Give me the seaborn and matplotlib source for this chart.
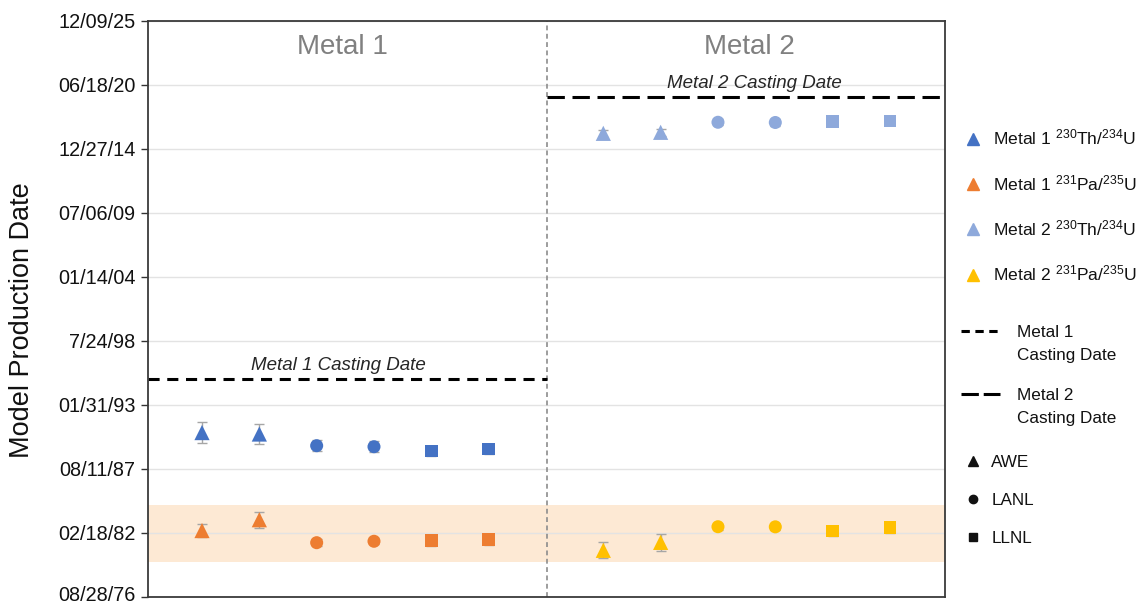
import numpy as np
import pandas as pd
import matplotlib
matplotlib.use("Agg")
import matplotlib.pyplot as plt
import matplotlib.dates as mdates
import matplotlib.transforms as mtransforms
from matplotlib.lines import Line2D
import seaborn as sns

# ---- data -----------------------------------------------------------------
labs = ["AWE", "AWE", "LANL", "LANL", "LLNL", "LLNL"]
metal1_x = [1, 2, 3, 4, 5, 6]
metal2_x = [8, 9, 10, 11, 12, 13]

metal1_th = ["1990-09-13", "1990-07-30", "1989-07-30", "1989-06-28", "1989-02-14", "1989-04-16"]
metal1_th_err = [330, 320, 180, 180, 150, 150]          # days
metal1_pa = ["1982-04-26", "1983-03-31", "1981-04-12", "1981-05-26", "1981-06-25", "1981-07-26"]
metal1_pa_err = [213, 250, 100, 100, 180, 180]
metal2_th = ["2016-04-20", "2016-05-22", "2017-04-01", "2017-03-25", "2017-04-20", "2017-05-12"]
metal2_th_err = [100, 100, 100, 100, 100, 100]
metal2_pa = ["1980-08-17", "1981-04-22", "1982-08-24", "1982-08-20", "1982-04-12", "1982-07-24"]
metal2_pa_err = [250, 260, 100, 100, 150, 150]

metal1_casting = "1995-04-12"
metal2_casting = "2019-05-28"
pa_band = ["1979-08-08", "1984-07-18"]

tick_dates = ["1976-08-28", "1982-02-18", "1987-08-11", "1993-01-31", "1998-07-24",
              "2004-01-14", "2009-07-06", "2014-12-27", "2020-06-18", "2025-12-09"]
tick_labels = ["08/28/76", "02/18/82", "08/11/87", "01/31/93", "7/24/98",
               "01/14/04", "07/06/09", "12/27/14", "06/18/20", "12/09/25"]

series_names = [r"Metal 1 $^{230}$Th/$^{234}$U", r"Metal 1 $^{231}$Pa/$^{235}$U",
                r"Metal 2 $^{230}$Th/$^{234}$U", r"Metal 2 $^{231}$Pa/$^{235}$U"]
series_colors = ["#4472C4", "#ED7D31", "#8EA9DB", "#FFC000"]

# ---- style ----------------------------------------------------------------
sns.set_theme(style="white")
plt.rcParams["font.family"] = ["Liberation Sans", "DejaVu Sans"]
plt.rcParams["mathtext.fontset"] = "custom"
plt.rcParams["mathtext.rm"] = "Liberation Sans"
plt.rcParams["mathtext.default"] = "regular"
plt.rcParams["lines.scale_dashes"] = False


def to_num(dates):
    return mdates.date2num(pd.to_datetime(dates))


rows = []
for name, xs, ds, es in [
    (series_names[0], metal1_x, metal1_th, metal1_th_err),
    (series_names[1], metal1_x, metal1_pa, metal1_pa_err),
    (series_names[2], metal2_x, metal2_th, metal2_th_err),
    (series_names[3], metal2_x, metal2_pa, metal2_pa_err),
]:
    for x, d, e, lab in zip(xs, to_num(ds), es, labs):
        rows.append({"x": x, "y": d, "err": e, "series": name, "lab": lab})
df = pd.DataFrame(rows)

fig = plt.figure(figsize=(11.41, 6.03), dpi=100)
ax = fig.add_axes([148 / 1141, 6.3 / 603, 797 / 1141, 576 / 603])

yticks = to_num(tick_dates)
xmin, xmax, xdiv = 0.058, 13.96, 7.02

# shaded Pa/U band
band = to_num(pa_band)
ax.axhspan(band[0], band[1], color="#FDE9D4", zorder=0.2, lw=0)

# error bars, then markers
ax.errorbar(df["x"], df["y"], yerr=df["err"], fmt="none", ecolor="#a6a6a6",
            elinewidth=1.0, capsize=3.5, capthick=1.0, zorder=2)
sns.scatterplot(data=df, x="x", y="y", hue="series", style="lab", size="lab",
                palette=dict(zip(series_names, series_colors)),
                markers={"AWE": "^", "LANL": "o", "LLNL": "s"},
                sizes={"AWE": 120, "LANL": 88, "LLNL": 82},
                edgecolor="none", linewidth=0, legend=False, zorder=3, ax=ax)

# divider between metals
ax.axvline(xdiv, color="#8c8c8c", lw=1.2, dashes=(3.5, 2.5), zorder=1)

# casting dates
c1, c2 = to_num([metal1_casting, metal2_casting])
ax.plot([xmin, xdiv], [c1, c1], color="black", lw=2.2, dashes=(8, 5.5), zorder=2.5)
ax.plot([xdiv, xmax], [c2, c2], color="black", lw=2.2, dashes=(12.5, 5.5), zorder=2.5)
ax.annotate("Metal 1 Casting Date", (3.37, c1), xytext=(0, 9.5), textcoords="offset points",
            ha="center", va="center", style="italic", fontsize=13.5, color="#262626")
ax.annotate("Metal 2 Casting Date", (10.63, c2), xytext=(0, 9.8), textcoords="offset points",
            ha="center", va="center", style="italic", fontsize=13.5, color="#262626")

# section titles
trans = mtransforms.blended_transform_factory(ax.transData, ax.transAxes)
ax.text(3.45, 0.954, "Metal 1", transform=trans, ha="center", va="center",
        fontsize=20, color="#808080")
ax.text(10.55, 0.954, "Metal 2", transform=trans, ha="center", va="center",
        fontsize=20, color="#808080")

# axes
ax.set_xlim(xmin, xmax)
ax.set_ylim(yticks[0], yticks[-1])
ax.set_yticks(yticks)
ax.set_yticklabels(tick_labels, fontsize=14.3, color="#111111")
ax.set_xticks([])
ax.set_xlabel("")
ax.set_ylabel("")
ax.yaxis.grid(True, color="#e3e3e3", lw=1.0)
ax.set_axisbelow(True)
ax.tick_params(axis="y", left=True, length=5, width=1.0, color="#333333", pad=4)
for sp in ax.spines.values():
    sp.set_color("#3a3a3a")
    sp.set_linewidth(1.3)
ax.set_facecolor("white")

# keep the lowest date label inside the figure
bottom_label = ax.get_yticklabels()[0]
bottom_label.set_transform(bottom_label.get_transform()
                           + mtransforms.ScaledTranslation(0, 3 / 100, fig.dpi_scale_trans))

fig.text(22 / 1141, 1 - 320 / 603, "Model Production Date", rotation=90,
         ha="center", va="center", fontsize=19.5, color="#111111")

# legends
leg_kw = dict(loc="upper left", frameon=False, borderpad=0,
              borderaxespad=0, labelcolor="#111111")
h1 = [Line2D([], [], marker="^", ls="none", color=c, markersize=8) for c in series_colors]
fig.legend(handles=h1, labels=series_names, bbox_to_anchor=(962 / 1141, 1 - 128 / 603),
           handlelength=1.2, handletextpad=0.55, labelspacing=1.45, fontsize=12.6, **leg_kw)

blank = Line2D([], [], ls="none")
h2a = Line2D([], [], color="black", lw=2.2, dashes=(6, 4))
h2b = Line2D([], [], color="black", lw=2.2, dashes=(12.5, 3.5))
fig.legend(handles=[h2a, blank], labels=["Metal 1", "Casting Date"],
           bbox_to_anchor=(961 / 1141, 1 - 325 / 603), handlelength=2.3,
           handletextpad=1.0, labelspacing=0.45, fontsize=12.3, **leg_kw)
fig.legend(handles=[h2b, blank], labels=["Metal 2", "Casting Date"],
           bbox_to_anchor=(961 / 1141, 1 - 388 / 603), handlelength=2.3,
           handletextpad=1.0, labelspacing=0.45, fontsize=12.3, **leg_kw)

h3 = [Line2D([], [], marker=m, ls="none", color="#111111", markersize=s)
      for m, s in [("^", 7.5), ("o", 6), ("s", 6)]]
fig.legend(handles=h3, labels=["AWE", "LANL", "LLNL"],
           bbox_to_anchor=(964 / 1141, 1 - 455 / 603), handlelength=1.0,
           handletextpad=0.6, labelspacing=1.35, fontsize=12.3, **leg_kw)

fig.savefig("out.png", dpi=100, facecolor="white")
